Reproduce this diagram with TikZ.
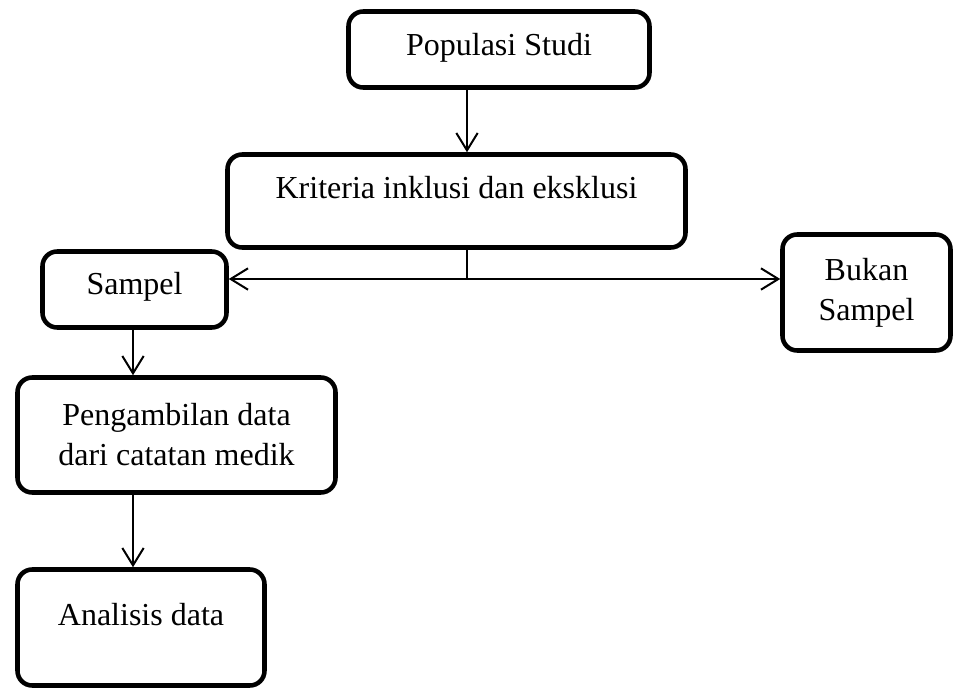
\documentclass[tikz,border=0pt]{standalone}
\usepackage{fontspec}
\setmainfont{Liberation Serif}
\usetikzlibrary{arrows.meta}
\newlength\pxl
\setlength\pxl{0.75pt}
\begin{document}
\begin{tikzpicture}[x=0.75pt,y=-0.75pt,
  box/.style={draw, line width=3.4pt, rounded corners=11pt, inner sep=0pt,
    align=center, font=\fontsize{24pt}{30pt}\selectfont},
  conn/.style={line width=1.5pt},
  arr/.style={conn, -{Straight Barb[length=13pt,width=16pt,line width=1.5pt]}},
  arrboth/.style={conn, {Straight Barb[length=13pt,width=16pt,line width=1.5pt]}-{Straight Barb[length=13pt,width=16pt,line width=1.5pt]}}]
\useasboundingbox (0,0) rectangle (954,690);

\node[box, minimum width=301\pxl, minimum height=76\pxl, text height=22\pxl, text depth=11\pxl] (pop) at (499,49.5) {Populasi Studi};
\node[box, minimum width=458\pxl, minimum height=93\pxl, text height=22\pxl, text depth=28\pxl] (kri) at (456.5,201) {Kriteria inklusi dan eksklusi};
\node[box, minimum width=184\pxl, minimum height=76\pxl, text height=22\pxl, text depth=13\pxl] (sam) at (134.5,289.5) {Sampel};
\node[box, minimum width=168\pxl, minimum height=116\pxl] (buk) at (866.5,292.5) {Bukan\\Sampel};
\node[box, minimum width=318\pxl, minimum height=115\pxl] (peng) at (176.5,435) {Pengambilan data\\dari catatan medik};
\node[box, minimum width=247\pxl, minimum height=116\pxl, text height=22\pxl, text depth=27\pxl] (ana) at (141,627.5) {Analisis data};

\coordinate (ax) at (467,0);
\coordinate (j) at (467,279);
\coordinate (lx) at (133,0);

\draw[arr] (pop.south -| ax) -- (kri.north -| ax);
\draw[conn] (kri.south -| j) -- (j);
\draw[arrboth] (sam.east |- j) -- (buk.west |- j);
\draw[arr] (sam.south -| lx) -- (peng.north -| lx);
\draw[arr] (peng.south -| lx) -- (ana.north -| lx);
\end{tikzpicture}
\end{document}
